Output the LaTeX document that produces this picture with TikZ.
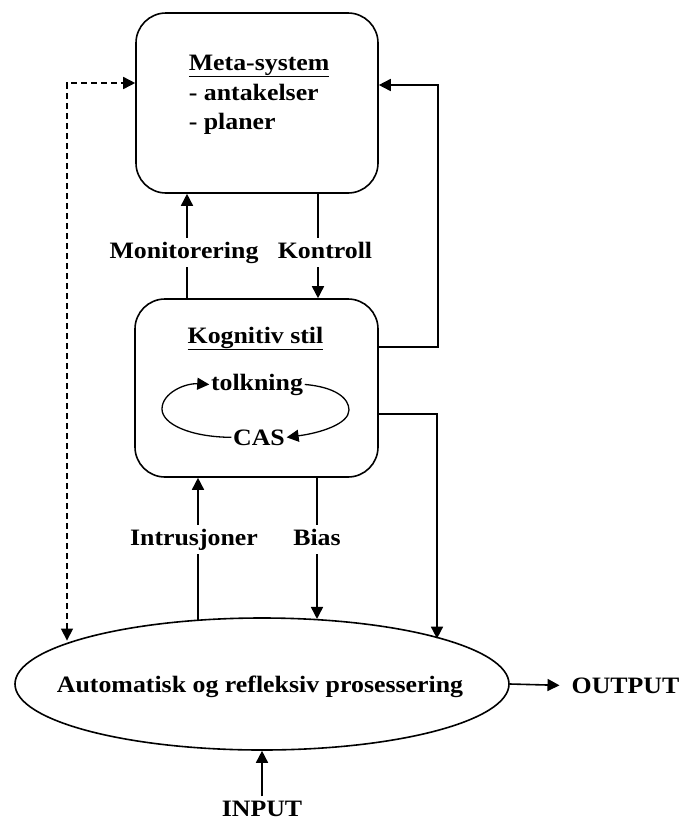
\documentclass[tikz,border=0pt]{standalone}
\usepackage{fontspec}
\setmainfont{Liberation Serif}[FakeStretch=1.1]
\usetikzlibrary{arrows.meta,shapes.geometric}
\begin{document}
\begin{tikzpicture}[x=1pt,y=-1pt, line width=1.6pt,
  every node/.style={font=\fontsize{23.5}{29}\selectfont\bfseries},
  box/.style={draw, rounded corners=30pt, inner sep=0pt},
  arr/.style={-{Triangle[length=12pt,width=12pt]}},
  darr/.style={dashed, dash pattern=on 6pt off 4pt, {Triangle[length=12pt,width=12pt]}-{Triangle[length=12pt,width=12pt]}},
  lbl/.style={fill=white, inner xsep=3pt, inner ysep=4pt, text height=16pt, text depth=5pt},
  txt/.style={inner sep=0pt},
]
\fill[white] (0,0) rectangle (678,820);
\useasboundingbox (0,0) rectangle (678,820);

% Meta-system box
\node[box, minimum width=242pt, minimum height=180pt] (meta) at (257,103) {};
\node[txt, anchor=base west] (mt1) at (188,70) {\underline{Meta-system}};
\node[txt, anchor=base west] (mt2) at (188,100) {- antakelser};
\node[txt, anchor=base west] (mt3) at (188,129) {- planer};

% Kognitiv stil box
\node[box, minimum width=243pt, minimum height=178pt] (kog) at (256.5,388) {};
\node[txt, anchor=base] (kt) at (255.5,343) {\underline{Kognitiv stil}};
\node[anchor=base, inner sep=1pt] (tolk) at (257,390) {tolkning};
\node[anchor=base, inner sep=1pt] (cas) at (259,445) {CAS};

% Ellipse
\node[draw, ellipse, minimum width=494pt, minimum height=132pt, inner sep=0pt] (ell) at (262,684) {};
\node[txt, anchor=base] (elltxt) at (260,692) {Automatisk og refleksiv prosessering};

\node[anchor=base] (out) at (625.5,693) {OUTPUT};
\node[anchor=base] (inp) at (262,816) {INPUT};

% helper coordinates
\coordinate (xL) at (187,0);
\coordinate (xK) at (318,0);
\coordinate (xI) at (198,0);
\coordinate (xB) at (317,0);
\coordinate (r1) at (438,347);
\coordinate (r2) at (438,85);
\coordinate (r3) at (437,414);
\coordinate (cD) at (67,83);

% connectors
\draw[arr] (xL |- kog.north) -- (xL |- meta.south);
\draw[arr] (xK |- meta.south) -- (xK |- kog.north);
\draw[arr] (ell.135.1 -| xI) -- (xI |- kog.south);
\draw[arr] (xB |- kog.south) -- (ell.49.5 -| xB);
\draw[arr] (kog.east |- r1) -- (r1) -- (r2) -- (meta.east |- r2);
\draw[arr] (kog.east |- r3) -- (r3) -- (ell.14.9 -| r3);
\draw[darr] (ell.167.85 -| cD) -- (cD) -- (meta.west |- cD);
\draw[arr] (ell.east) -- ([xshift=-8pt]out.west);
\draw[arr] (inp.north) -- (inp.north |- ell.south);

% loop
\draw[arr, line width=1.3pt] (tolk.east) .. controls (335,387) and (349,398) .. (349,410) .. controls (349,424) and (320,433) .. (cas.east);
\draw[arr, line width=1.3pt] (cas.west) .. controls (190,437) and (162,424) .. (162,409) .. controls (162,393) and (185,383) .. (tolk.west);

% labels
\node[lbl, anchor=base] (mon) at (184,258) {Monitorering};
\node[lbl, anchor=base] (kon) at (325,258) {Kontroll};
\node[lbl, anchor=base] (intr) at (194,545) {Intrusjoner};
\node[lbl, anchor=base] (bias) at (317,545) {Bias};
\end{tikzpicture}
\end{document}
